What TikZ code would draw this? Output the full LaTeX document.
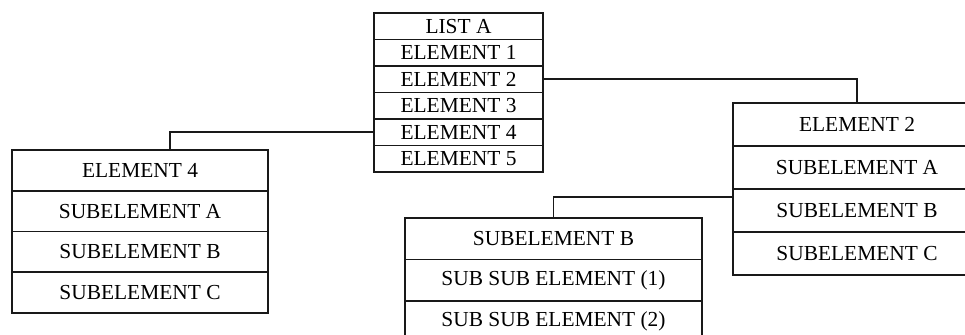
\documentclass[tikz,border=0pt]{standalone}
\usepackage{fontspec}
\setmainfont{Liberation Serif}
\begin{document}
\begin{tikzpicture}[x=0.5pt,y=-0.5pt,
  cell/.style={draw=black!90, line width=0.9pt, rectangle, inner sep=0pt, outer sep=0pt,
    font=\fontsize{10.7}{12}\selectfont, text=black},
  listcell/.style={cell, minimum width=84.5pt, minimum height=13.25pt},
  rightcell/.style={cell, minimum width=124pt, minimum height=21.5pt},
  leftcell/.style={cell, minimum width=128pt, minimum height=20.4pt},
  subcell/.style={cell, minimum width=148.5pt, minimum height=20.75pt},
  link/.style={draw=black!90, line width=0.9pt}]
\useasboundingbox (0,0) rectangle (965,334);

% main list
\node[listcell] (la0) at (458.5,26.25) {LIST A};
\node[listcell] (la1) at (458.5,52.75) {ELEMENT 1};
\node[listcell] (la2) at (458.5,79.25) {ELEMENT 2};
\node[listcell] (la3) at (458.5,105.75) {ELEMENT 3};
\node[listcell] (la4) at (458.5,132.25) {ELEMENT 4};
\node[listcell] (la5) at (458.5,158.75) {ELEMENT 5};

% element 2 expanded
\node[rightcell] (e2h) at (857,124.5) {ELEMENT 2};
\node[rightcell] (e2a) at (857,167.5) {SUBELEMENT A};
\node[rightcell] (e2b) at (857,210.5) {SUBELEMENT B};
\node[rightcell] (e2c) at (857,253.5) {SUBELEMENT C};

% element 4 expanded
\node[leftcell] (l4h) at (140,170.4) {ELEMENT 4};
\node[leftcell] (l4a) at (140,211.1) {SUBELEMENT A};
\node[leftcell] (l4b) at (140,251.9) {SUBELEMENT B};
\node[leftcell] (l4c) at (140,292.6) {SUBELEMENT C};

% subelement B expanded
\node[subcell] (sbh) at (553.5,238.75) {SUBELEMENT B};
\node[subcell] (sb1) at (553.5,280.25) {SUB SUB ELEMENT (1)};
\node[subcell] (sb2) at (553.5,321.75) {SUB SUB ELEMENT (2)};

% connectors
\draw[link] (la2.east) -| (e2h.north);
\draw[link] (la4.west) -| ([xshift=15pt]l4h.north);
\draw[link] ([yshift=6.75pt]e2b.west) -| (sbh.north);
\end{tikzpicture}
\end{document}
